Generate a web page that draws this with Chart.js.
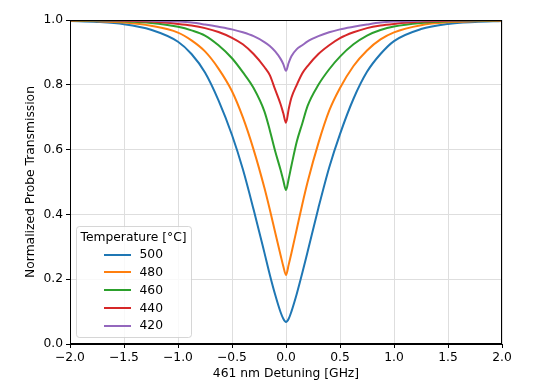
<!DOCTYPE html>
<html>
<head>
<meta charset="utf-8">
<script src="https://cdn.jsdelivr.net/npm/chart.js@4.4.1/dist/chart.umd.min.js"></script>
<style>
html,body{margin:0;padding:0;background:#fff;}
#wrap{width:558px;height:389px;position:relative;}
</style>
</head>
<body>
<div id="wrap"><canvas id="c" width="558" height="389"></canvas></div>
<script>
// ---- data ----
const detuning = [-2, -1.75, -1.5, -1.25, -1, -0.875, -0.75, -0.625, -0.5, -0.4, -0.3, -0.2, -0.15, -0.1, -0.05, -0.025, 0,
                  0.025, 0.05, 0.1, 0.15, 0.2, 0.3, 0.4, 0.5, 0.625, 0.75, 0.875, 1, 1.25, 1.5, 1.75, 2];
const t500 = [0.997, 0.994, 0.987, 0.970, 0.933, 0.895, 0.838, 0.752, 0.645, 0.540, 0.415, 0.282, 0.214, 0.152, 0.098, 0.078, 0.068,
              0.078, 0.100, 0.155, 0.218, 0.285, 0.420, 0.545, 0.648, 0.757, 0.840, 0.895, 0.935, 0.972, 0.988, 0.994, 0.997];
const t480 = [0.998, 0.996, 0.992, 0.982, 0.961, 0.937, 0.903, 0.850, 0.780, 0.700, 0.600, 0.482, 0.415, 0.344, 0.274, 0.240, 0.213,
              0.245, 0.280, 0.355, 0.430, 0.500, 0.620, 0.720, 0.790, 0.858, 0.906, 0.940, 0.962, 0.984, 0.993, 0.996, 0.998];
const t460 = [0.999, 0.998, 0.996, 0.991, 0.979, 0.968, 0.952, 0.922, 0.882, 0.839, 0.790, 0.718, 0.660, 0.595, 0.537, 0.505, 0.475,
              0.510, 0.550, 0.625, 0.680, 0.735, 0.800, 0.848, 0.887, 0.925, 0.952, 0.969, 0.980, 0.991, 0.996, 0.998, 0.999];
const t440 = [0.999, 0.999, 0.998, 0.995, 0.988, 0.983, 0.975, 0.963, 0.945, 0.925, 0.895, 0.855, 0.830, 0.785, 0.740, 0.712, 0.683,
              0.725, 0.760, 0.800, 0.835, 0.858, 0.895, 0.922, 0.944, 0.962, 0.975, 0.983, 0.988, 0.995, 0.998, 0.999, 0.999];
const t420 = [1.000, 0.9995, 0.999, 0.998, 0.995, 0.992, 0.986, 0.979, 0.971, 0.962, 0.950, 0.932, 0.920, 0.903, 0.880, 0.864, 0.843,
              0.868, 0.888, 0.910, 0.922, 0.934, 0.950, 0.962, 0.971, 0.979, 0.986, 0.992, 0.995, 0.998, 0.999, 0.9995, 1.000];
const seriesLabels = ['500', '480', '460', '440', '420'];
const seriesValues = [t500, t480, t460, t440, t420];
const xTicks = [-2.0, -1.5, -1.0, -0.5, 0.0, 0.5, 1.0, 1.5, 2.0];
const yTicks = [0.0, 0.2, 0.4, 0.6, 0.8, 1.0];
const legendTitle = 'Temperature [°C]';
const xTitle = '461 nm Detuning [GHz]';
const yTitle = 'Normalized Probe Transmission';

// ---- styles ----
const colors = ['#1f77b4', '#ff7f0e', '#2ca02c', '#d62728', '#9467bd'];
const FONT = 'DejaVu Sans';
const FS = 12.3;
Chart.defaults.font.family = FONT;
Chart.defaults.font.size = FS;
Chart.defaults.color = '#000';

const fmt = v => (v < 0 ? '\u2212' : '') + Math.abs(v).toFixed(1);

const datasets = seriesValues.map((vals, i) => ({
  label: seriesLabels[i],
  data: detuning.map((x, j) => ({x: x, y: vals[j]})),
  borderColor: colors[i],
  backgroundColor: colors[i],
  borderWidth: 2,
  pointRadius: 0,
  fill: false,
  cubicInterpolationMode: 'monotone',
  order: seriesValues.length - i
}));

const framePlugin = {
  id: 'frame',
  afterDraw(chart) {
    const {ctx, chartArea: a} = chart;
    ctx.save();
    ctx.strokeStyle = '#000';
    ctx.lineWidth = 1;
    ctx.strokeRect(Math.round(a.left) + 0.5, Math.round(a.top) + 0.5,
                   Math.round(a.right - a.left) - 1, Math.round(a.bottom - a.top) - 1);
    // legend
    const bx = 76.5, by = 226.5, bw = 115, bh = 111, r = 3;
    ctx.beginPath();
    ctx.moveTo(bx + r, by);
    ctx.lineTo(bx + bw - r, by); ctx.quadraticCurveTo(bx + bw, by, bx + bw, by + r);
    ctx.lineTo(bx + bw, by + bh - r); ctx.quadraticCurveTo(bx + bw, by + bh, bx + bw - r, by + bh);
    ctx.lineTo(bx + r, by + bh); ctx.quadraticCurveTo(bx, by + bh, bx, by + bh - r);
    ctx.lineTo(bx, by + r); ctx.quadraticCurveTo(bx, by, bx + r, by);
    ctx.closePath();
    ctx.fillStyle = 'rgba(255,255,255,0.8)';
    ctx.fill();
    ctx.strokeStyle = 'rgba(204,204,204,0.8)';
    ctx.lineWidth = 1;
    ctx.stroke();
    ctx.fillStyle = '#000';
    ctx.font = FS + 'px "' + FONT + '"';
    ctx.textBaseline = 'middle';
    ctx.textAlign = 'left';
    ctx.fillText(legendTitle, 80.5, 237.5);
    chart.data.datasets.forEach((ds, i) => {
      const y = 254.5 + i * 17.8;
      ctx.strokeStyle = ds.borderColor;
      ctx.lineWidth = 2;
      ctx.beginPath();
      ctx.moveTo(104, Math.round(y));
      ctx.lineTo(131, Math.round(y));
      ctx.stroke();
      ctx.fillStyle = '#000';
      ctx.fillText(ds.label, 139.5, y + 0.5);
    });
    ctx.restore();
  }
};

new Chart(document.getElementById('c'), {
  type: 'line',
  data: {datasets: datasets},
  options: {
    responsive: false,
    devicePixelRatio: 1,
    animation: false,
    layout: {padding: {left: 0, right: 56, top: 20, bottom: 0}},
    plugins: {legend: {display: false}, tooltip: {enabled: false}},
    scales: {
      x: {
        type: 'linear', min: -2, max: 2,
        afterBuildTicks: s => { s.ticks = xTicks.map(v => ({value: v})); },
        afterFit: s => { s.height = 45; },
        ticks: {callback: v => fmt(v), padding: 2, maxRotation: 0, autoSkip: false, color: '#000'},
        grid: {color: '#dedede', lineWidth: 1, tickColor: '#000', tickLength: 4, drawTicks: true},
        border: {display: true, color: '#000', width: 1},
        title: {display: true, text: xTitle, padding: {top: 0, bottom: 8}, font: {size: FS}}
      },
      y: {
        type: 'linear', min: 0, max: 1,
        afterBuildTicks: s => { s.ticks = yTicks.map(v => ({value: v})); },
        afterFit: s => { s.width = 70; },
        ticks: {callback: v => v.toFixed(1), padding: 3, autoSkip: false, color: '#000'},
        grid: {color: '#dedede', lineWidth: 1, tickColor: '#000', tickLength: 4, drawTicks: true},
        border: {display: true, color: '#000', width: 1},
        title: {display: true, text: yTitle, padding: {top: 23, bottom: 0}, font: {size: FS}}
      }
    }
  },
  plugins: [framePlugin]
});
</script>
</body>
</html>
